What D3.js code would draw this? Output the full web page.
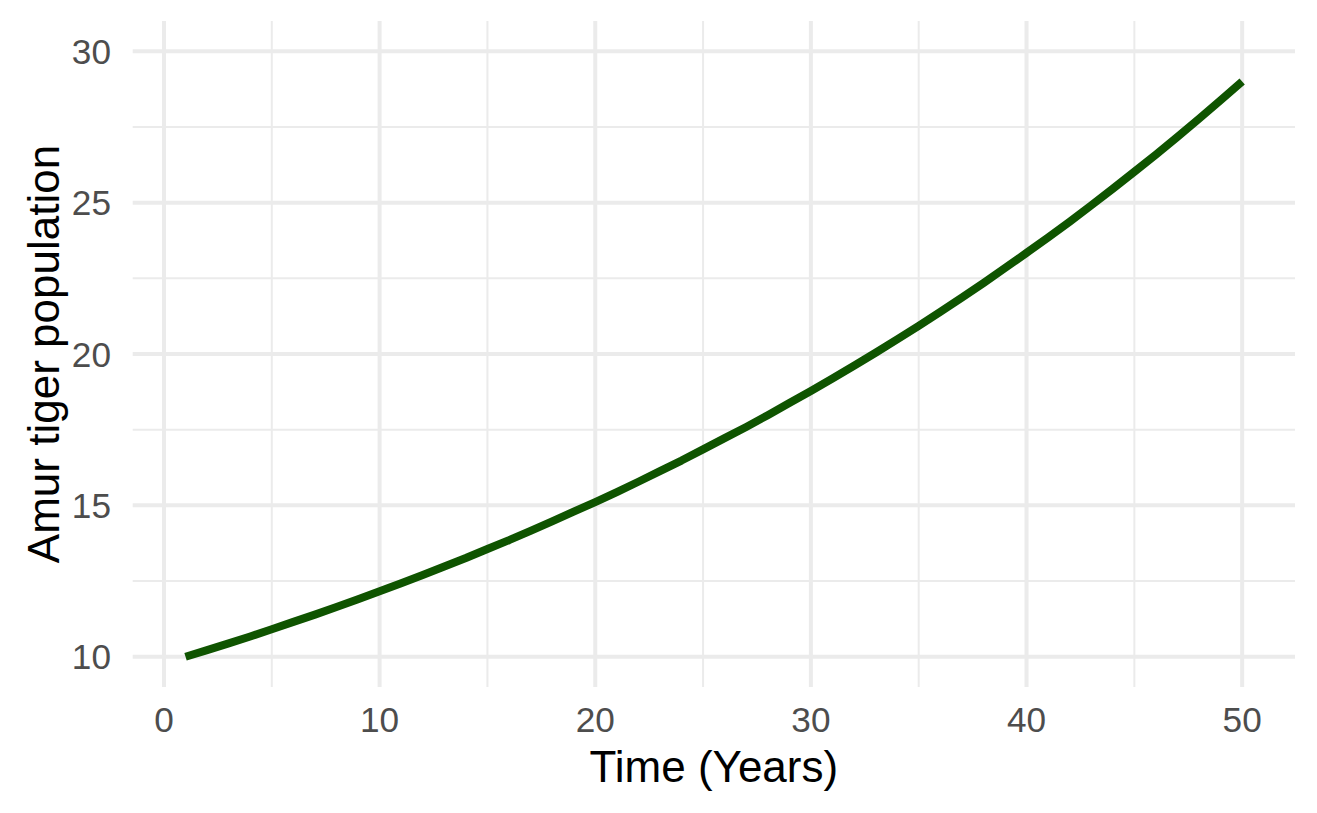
<!DOCTYPE html>
<html>
<head>
<meta charset="utf-8">
<script src="https://cdn.jsdelivr.net/npm/d3@7"></script>
<style>
  body { margin: 0; background: #fff; }
  svg { display: block; font-family: "Liberation Sans", Arial, sans-serif; }
</style>
</head>
<body>
<svg width="1317" height="813"></svg>
<script>
// chart data
const years = [1, 2, 3, 4, 5, 6, 7, 8, 9, 10,
               11, 12, 13, 14, 15, 16, 17, 18, 19, 20,
               21, 22, 23, 24, 25, 26, 27, 28, 29, 30,
               31, 32, 33, 34, 35, 36, 37, 38, 39, 40,
               41, 42, 43, 44, 45, 46, 47, 48, 49, 50];
const population = [10.00, 10.22, 10.44, 10.67, 10.91, 11.15, 11.39, 11.64, 11.90, 12.16,
                    12.43, 12.70, 12.98, 13.26, 13.56, 13.85, 14.16, 14.47, 14.79, 15.11,
                    15.44, 15.78, 16.13, 16.48, 16.85, 17.22, 17.59, 17.98, 18.38, 18.78,
                    19.19, 19.61, 20.04, 20.48, 20.93, 21.39, 21.86, 22.34, 22.84, 23.34,
                    23.85, 24.37, 24.91, 25.46, 26.02, 26.59, 27.17, 27.77, 28.38, 29.00];
const xTicks = [0, 10, 20, 30, 40, 50];
const xMinor = [5, 15, 25, 35, 45];
const yTicks = [10, 15, 20, 25, 30];
const yMinor = [12.5, 17.5, 22.5, 27.5];
const xTitle = 'Time (Years)';
const yTitle = 'Amur tiger population';

const svg = d3.select('svg');

const panel = {left: 132.7, right: 1295, top: 21, bottom: 687};

let x = d3.scaleLinear()
          .domain([-1.45, 52.45])
          .range([panel.left, panel.right]);

let y = d3.scaleLinear()
          .domain([9, 31])
          .range([panel.bottom, panel.top]);

let grid = svg.append('g').attr('class', 'grid');

// minor grid first, then major on top
grid.selectAll('line.xminor')
    .data(xMinor)
    .enter().append('line')
    .attr('x1', d => x(d)).attr('x2', d => x(d))
    .attr('y1', panel.top).attr('y2', panel.bottom)
    .attr('stroke', '#ebebeb').attr('stroke-width', 2);

grid.selectAll('line.yminor')
    .data(yMinor)
    .enter().append('line')
    .attr('y1', d => y(d)).attr('y2', d => y(d))
    .attr('x1', panel.left).attr('x2', panel.right)
    .attr('stroke', '#ebebeb').attr('stroke-width', 2);

grid.selectAll('line.xmajor')
    .data(xTicks)
    .enter().append('line')
    .attr('x1', d => x(d)).attr('x2', d => x(d))
    .attr('y1', panel.top).attr('y2', panel.bottom)
    .attr('stroke', '#ebebeb').attr('stroke-width', 4);

grid.selectAll('line.ymajor')
    .data(yTicks)
    .enter().append('line')
    .attr('y1', d => y(d)).attr('y2', d => y(d))
    .attr('x1', panel.left).attr('x2', panel.right)
    .attr('stroke', '#ebebeb').attr('stroke-width', 4);

// the series
let line = d3.line()
             .x((d, i) => x(years[i]))
             .y(d => y(d));

svg.append('path')
   .datum(population)
   .attr('d', line)
   .attr('fill', 'none')
   .attr('stroke', '#0f5400')
   .attr('stroke-width', 8)
   .attr('stroke-linecap', 'butt')
   .attr('stroke-linejoin', 'round');

// tick labels
svg.append('g').selectAll('text')
   .data(xTicks)
   .enter().append('text')
   .attr('x', d => x(d))
   .attr('y', 732)
   .attr('text-anchor', 'middle')
   .attr('fill', '#4d4d4d')
   .style('font-size', '35.2px')
   .text(d => d);

svg.append('g').selectAll('text')
   .data(yTicks)
   .enter().append('text')
   .attr('x', 111)
   .attr('y', d => y(d))
   .attr('dy', '0.36em')
   .attr('text-anchor', 'end')
   .attr('fill', '#4d4d4d')
   .style('font-size', '35.2px')
   .text(d => d);

// axis titles
svg.append('text')
   .attr('x', (panel.left + panel.right) / 2)
   .attr('y', 782)
   .attr('text-anchor', 'middle')
   .attr('fill', '#000')
   .style('font-size', '44px')
   .text(xTitle);

svg.append('text')
   .attr('transform', 'translate(59,' + (panel.top + panel.bottom) / 2 + ') rotate(-90)')
   .attr('text-anchor', 'middle')
   .attr('fill', '#000')
   .style('font-size', '44px')
   .text(yTitle);
</script>
</body>
</html>
